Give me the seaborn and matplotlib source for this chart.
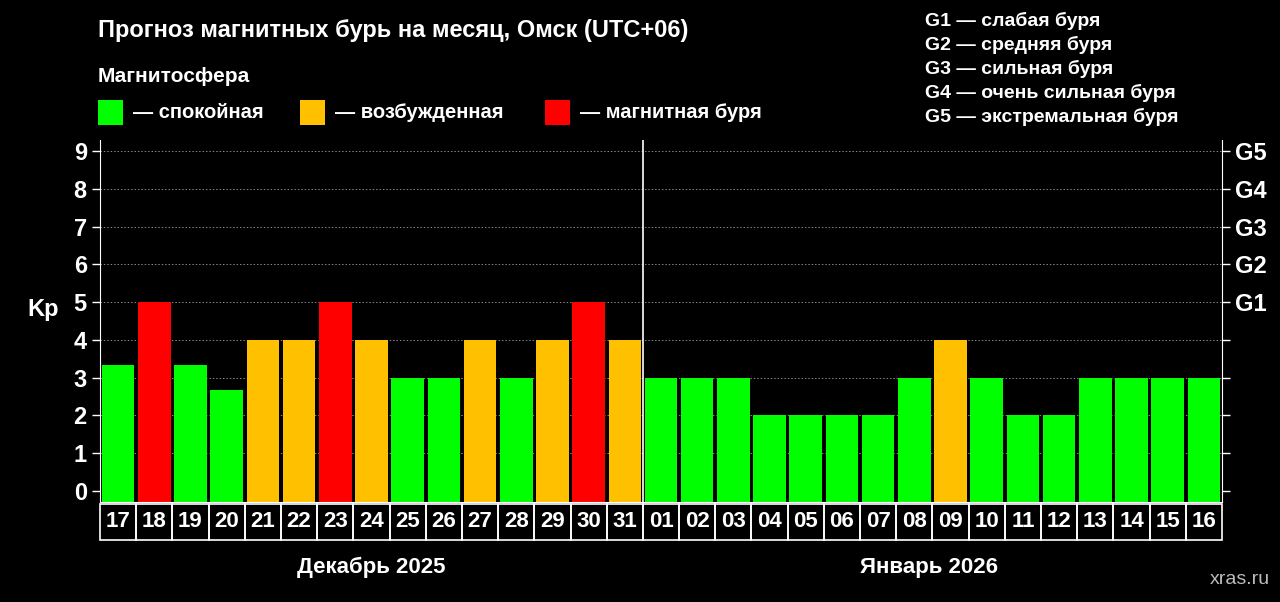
import pandas as pd
import matplotlib.pyplot as plt
import seaborn as sns
import numpy as np
from matplotlib.patches import Rectangle
import matplotlib.transforms as mtransforms

days = ["17", "18", "19", "20", "21", "22", "23", "24", "25", "26", "27", "28", "29", "30", "31",
        "01", "02", "03", "04", "05", "06", "07", "08", "09", "10", "11", "12", "13", "14", "15", "16"]
kp = [3.33, 5, 3.33, 2.67, 4, 4, 5, 4, 3, 3, 4, 3, 4, 5, 4,
      3, 3, 3, 2, 2, 2, 2, 3, 4, 3, 2, 2, 3, 3, 3, 3]
levels = ["q", "s", "q", "q", "a", "a", "s", "a", "q", "q", "a", "q", "a", "s", "a",
          "q", "q", "q", "q", "q", "q", "q", "q", "a", "q", "q", "q", "q", "q", "q", "q"]
months = ["Декабрь 2025", "Январь 2026"]
g_labels = ["G1", "G2", "G3", "G4", "G5"]
g_text = ["G1 — слабая буря", "G2 — средняя буря", "G3 — сильная буря",
          "G4 — очень сильная буря", "G5 — экстремальная буря"]
legend_items = [("q", "— спокойная"), ("a", "— возбужденная"), ("s", "— магнитная буря")]
colors = {"q": "#00FF00", "a": "#FFC000", "s": "#FF0000"}

plt.rcParams['font.family'] = ['Liberation Sans', 'DejaVu Sans']
plt.rcParams['font.weight'] = 'bold'

fig = plt.figure(figsize=(12.8, 6.02), dpi=100, facecolor="black")
ax = fig.add_axes([100 / 1280, 1 - 502 / 602, 1122 / 1280, 362 / 602])
ax.set_facecolor("black")

df = pd.DataFrame({"day": [f"{i}" for i in range(len(days))], "kp": np.array(kp) + 0.3, "lvl": levels})
sns.barplot(data=df, x="day", y="kp", hue="lvl", palette=colors, dodge=False,
            width=0.9, legend=False, ax=ax, saturation=1)
for p in ax.patches:
    p.set_y(-0.3)

ax.set_ylim(-0.3, 9.3)
ax.set_xlim(-0.5, len(days) - 0.5)
for y in range(1, 10):
    ax.axhline(y, color="#888888", ls=(0, (1.5, 2)), lw=0.7, zorder=0)
ax.axvline(14.5, color="white", lw=1.2)

ax.set_yticks(range(10))
ax.tick_params(axis="y", colors="white", labelsize=17, length=6, width=1)
for t in ax.get_yticklabels():
    t.set_fontweight("bold")
ax.set_xticks([])
ax.set_xlabel("")
ax.set_ylabel("Kp", color="white", fontsize=17, fontweight="bold", rotation=0, labelpad=22)
for s in ["left", "right", "bottom"]:
    ax.spines[s].set_color("white")
ax.spines["top"].set_visible(False)

ax2 = ax.twinx()
ax2.set_ylim(-0.3, 9.3)
ax2.set_yticks(range(10))
ax2.set_yticklabels([""] * 5 + g_labels)
ax2.tick_params(axis="y", colors="white", labelsize=17, length=6, width=1)
for t in ax2.get_yticklabels():
    t.set_fontweight("bold")
for s in ax2.spines.values():
    s.set_visible(False)

trans = mtransforms.blended_transform_factory(ax.transData, ax.transAxes)
for i, d in enumerate(days):
    ax.add_patch(Rectangle((i - 0.5, -0.105), 1, 0.1, transform=trans, fill=False,
                           edgecolor="white", lw=1.2, clip_on=False))
    ax.text(i, -0.055, d, transform=trans, color="white", fontsize=16,
            ha="center", va="center", fontweight="bold")
ax.text(7, -0.18, months[0], transform=trans, color="white", fontsize=16, ha="center", va="center", fontweight="bold")
ax.text(22.4, -0.18, months[1], transform=trans, color="white", fontsize=16, ha="center", va="center", fontweight="bold")

fig.text(98 / 1280, 1 - 30 / 602, "Прогноз магнитных бурь на месяц, Омск (UTC+06)", color="white",
         fontsize=17, va="center", fontweight="bold")
fig.text(98 / 1280, 1 - 76 / 602, "Магнитосфера", color="white", fontsize=15, va="center", fontweight="bold")
xs = [98, 300, 545]
for x, (k, lab) in zip(xs, legend_items):
    fig.patches.append(Rectangle((x / 1280, 1 - 125 / 602), 25 / 1280, 25 / 602, transform=fig.transFigure,
                                 facecolor=colors[k], edgecolor="none"))
    fig.text((x + 35) / 1280, 1 - 112 / 602, lab, color="white", fontsize=14.5, va="center", fontweight="bold")
for j, t in enumerate(g_text):
    fig.text(925 / 1280, 1 - (21 + j * 24) / 602, t, color="white", fontsize=14, va="center", fontweight="bold")
fig.text(1270 / 1280, 1 - 580 / 602, "xras.ru", color="#bbbbbb", fontsize=14, ha="right", va="center",
         fontweight="normal")

fig.savefig("out.png", dpi=100, facecolor="black")
